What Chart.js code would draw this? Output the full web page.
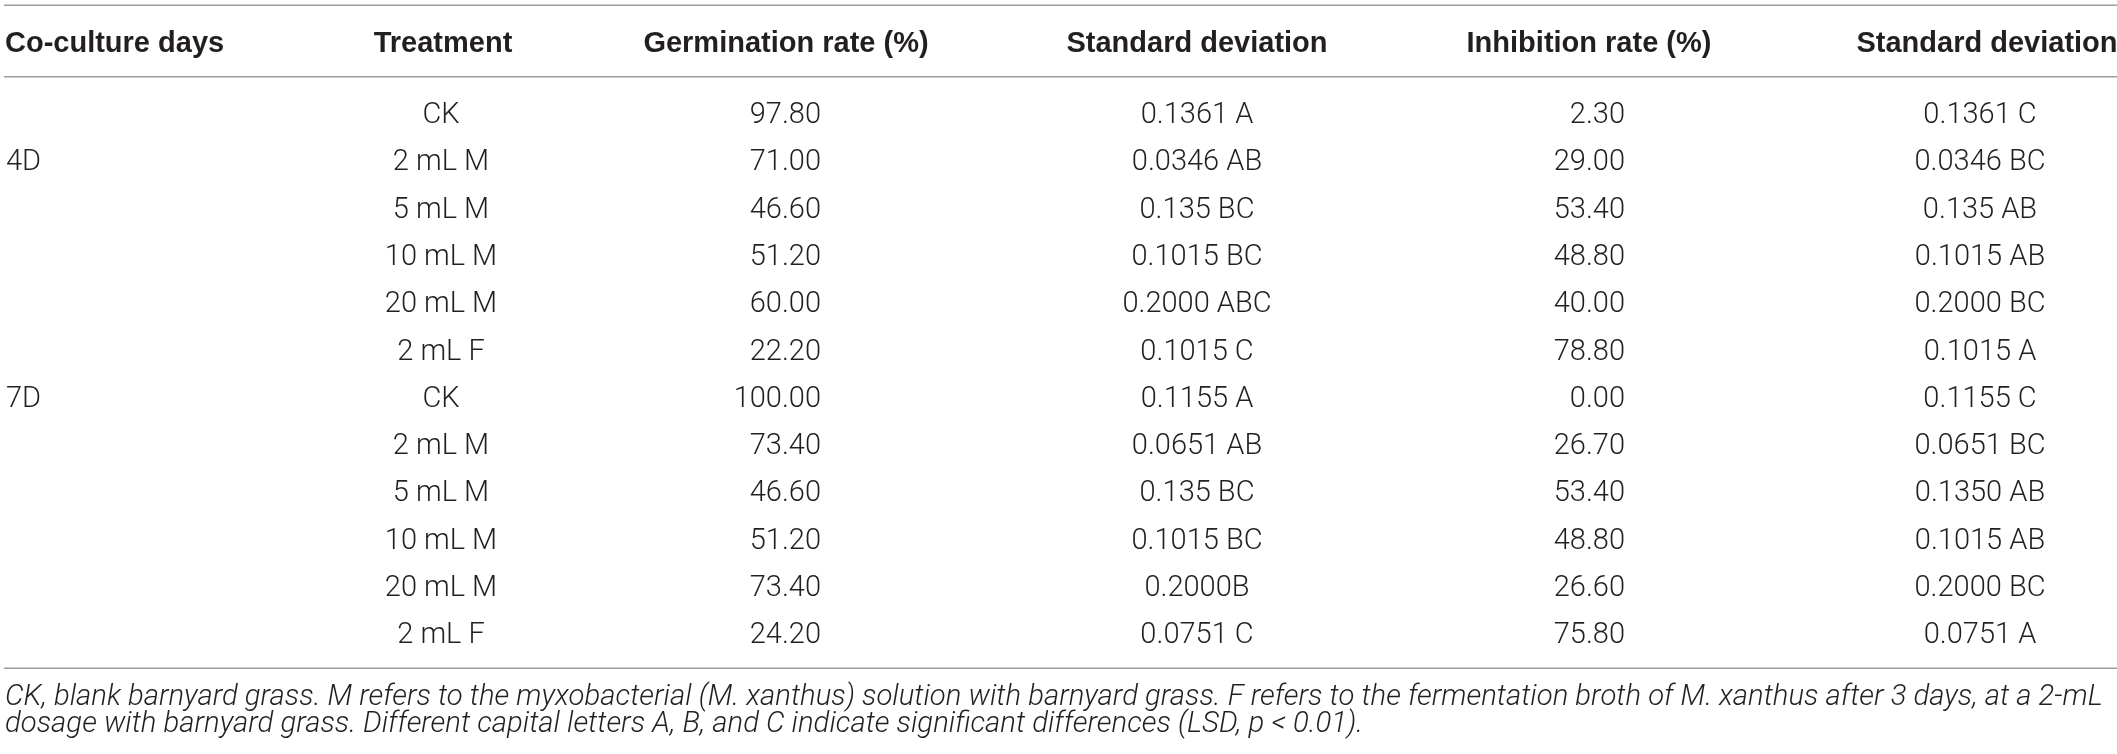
<!DOCTYPE html>
<html>
<head>
<meta charset="utf-8">
<title>Germination and inhibition rates</title>
<script src="https://cdn.jsdelivr.net/npm/chart.js@4.4.1/dist/chart.umd.min.js"></script>
<style>
  html, body { margin: 0; padding: 0; background: #fff; }
  #wrap { width: 2117px; height: 754px; position: relative; }
</style>
</head>
<body>
<div id="wrap"><canvas id="table"></canvas></div>
<script>
// Table content
const headers = ['Co-culture days', 'Treatment', 'Germination rate (%)', 'Standard deviation', 'Inhibition rate (%)', 'Standard deviation'];
const dayRows = ['', '4D', '', '', '', '', '7D', '', '', '', '', ''];
const treatments = ['CK', '2 mL M', '5 mL M', '10 mL M', '20 mL M', '2 mL F', 'CK', '2 mL M', '5 mL M', '10 mL M', '20 mL M', '2 mL F'];
const germination = [97.80, 71.00, 46.60, 51.20, 60.00, 22.20, 100.00, 73.40, 46.60, 51.20, 73.40, 24.20];
const germinationSD = ['0.1361 A', '0.0346 AB', '0.135 BC', '0.1015 BC', '0.2000 ABC', '0.1015 C', '0.1155 A', '0.0651 AB', '0.135 BC', '0.1015 BC', '0.2000B', '0.0751 C'];
const inhibition = [2.30, 29.00, 53.40, 48.80, 40.00, 78.80, 0.00, 26.70, 53.40, 48.80, 26.60, 75.80];
const inhibitionSD = ['0.1361 C', '0.0346 BC', '0.135 AB', '0.1015 AB', '0.2000 BC', '0.1015 A', '0.1155 C', '0.0651 BC', '0.1350 AB', '0.1015 AB', '0.2000 BC', '0.0751 A'];
const footnote = [
  'CK, blank barnyard grass. M refers to the myxobacterial (M. xanthus) solution with barnyard grass. F refers to the fermentation broth of M. xanthus after 3 days, at a 2-mL',
  'dosage with barnyard grass. Different capital letters A, B, and C indicate significant differences (LSD, p < 0.01).'
];

// Layout: x in reference pixels, y in row units (row 0 = first body row)
const colX = { days: 6, treat: 441, germ: 821, germSD: 1197, inh: 1625, inhSD: 1980 };
const headX = [5, 443, 786, 1197, 1589, 1987];
const headAlign = ['left', 'center', 'center', 'center', 'center', 'center'];
const headerRow = -1.495;
const rules = [-2.271, -0.761, 11.749];
const footRows = [12.525, 13.096];

const textColor = '#231f20';
const bodyFont = '300 29px Roboto, "Liberation Sans", sans-serif';
const headFont = 'bold 29px "Liberation Sans", Arial, sans-serif';
const capHalf = 10.4;

function column(texts, xPos, align) {
  const pts = [], labels = [];
  texts.forEach((t, i) => {
    if (t === '') return;
    pts.push({ x: xPos, y: i });
    labels.push(t);
  });
  return { data: pts, texts: labels, align: align, pointRadius: 0, pointHoverRadius: 0, showLine: false };
}

const tablePlugin = {
  id: 'tableText',
  afterDatasetsDraw(chart) {
    const ctx = chart.ctx;
    const xs = chart.scales.x, ys = chart.scales.y;
    ctx.save();

    // horizontal rules
    ctx.strokeStyle = '#9d9d9d';
    ctx.lineWidth = 1.5;
    rules.forEach(v => {
      const py = ys.getPixelForValue(v);
      ctx.beginPath();
      ctx.moveTo(xs.getPixelForValue(4), py);
      ctx.lineTo(xs.getPixelForValue(2117), py);
      ctx.stroke();
    });

    // header row
    ctx.fillStyle = textColor;
    ctx.font = headFont;
    ctx.textBaseline = 'alphabetic';
    const hy = ys.getPixelForValue(headerRow) + capHalf;
    headers.forEach((h, i) => {
      ctx.textAlign = headAlign[i];
      ctx.fillText(h, xs.getPixelForValue(headX[i]), hy);
    });

    // body cells, placed at the dataset points
    ctx.font = bodyFont;
    chart.data.datasets.forEach((ds, di) => {
      const meta = chart.getDatasetMeta(di);
      ctx.textAlign = ds.align;
      meta.data.forEach((pt, i) => {
        ctx.fillText(ds.texts[i], pt.x, pt.y + capHalf);
      });
    });

    // footnote, sized to span the table width
    let size = 26;
    ctx.font = 'italic 300 ' + size + 'px Roboto, "Liberation Sans", sans-serif';
    const w = ctx.measureText(footnote[0]).width;
    size = size * 2098 / w;
    ctx.font = 'italic 300 ' + size.toFixed(2) + 'px Roboto, "Liberation Sans", sans-serif';
    ctx.textAlign = 'left';
    footnote.forEach((line, i) => {
      ctx.fillText(line, xs.getPixelForValue(5), ys.getPixelForValue(footRows[i]));
    });
    ctx.restore();
  }
};

const fmt = v => v.toFixed(2);

new Chart(document.getElementById('table'), {
  type: 'scatter',
  data: {
    datasets: [
      column(dayRows, colX.days, 'left'),
      column(treatments, colX.treat, 'center'),
      column(germination.map(fmt), colX.germ, 'right'),
      column(germinationSD, colX.germSD, 'center'),
      column(inhibition.map(fmt), colX.inh, 'right'),
      column(inhibitionSD, colX.inhSD, 'center')
    ]
  },
  options: {
    responsive: true,
    maintainAspectRatio: false,
    animation: false,
    events: [],
    layout: { padding: 0 },
    plugins: { legend: { display: false }, tooltip: { enabled: false } },
    scales: {
      x: { type: 'linear', display: false, min: 0, max: 2117 },
      y: { type: 'linear', display: false, reverse: true, min: -2.383, max: 13.561 }
    }
  },
  plugins: [tablePlugin]
});
</script>
</body>
</html>
